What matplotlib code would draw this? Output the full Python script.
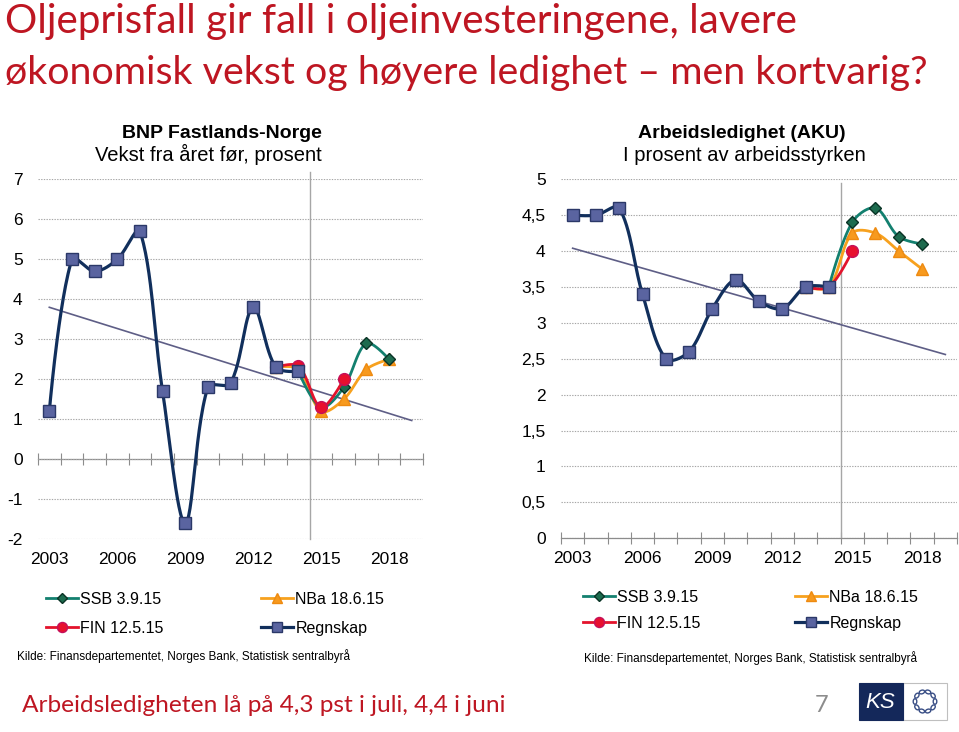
import numpy as np
import matplotlib.pyplot as plt
from matplotlib.patches import Rectangle, Ellipse
from matplotlib.lines import Line2D

plt.rcParams['font.family'] = ['Liberation Sans', 'DejaVu Sans']

# ---- data ----
tick_years = [2003, 2006, 2009, 2012, 2015, 2018]
trend_years = [2003, 2019]

# BNP Fastlands-Norge, vekst fra året før
bnp_regnskap_years = list(range(2003, 2015))
bnp_regnskap = [1.2, 5.0, 4.7, 5.0, 5.7, 1.7, -1.6, 1.8, 1.9, 3.8, 2.3, 2.2]
bnp_ssb_years = [2014, 2015, 2016, 2017, 2018]
bnp_ssb = [2.2, 1.3, 1.8, 2.9, 2.5]
bnp_nba_years = [2013, 2014, 2015, 2016, 2017, 2018]
bnp_nba = [2.3, 2.25, 1.2, 1.5, 2.25, 2.5]
bnp_fin_years = [2013, 2014, 2015, 2016]
bnp_fin = [2.3, 2.33, 1.3, 2.0]
bnp_trend = [3.8, 0.97]

# Arbeidsledighet (AKU)
aku_regnskap_years = list(range(2003, 2015))
aku_regnskap = [4.5, 4.5, 4.6, 3.4, 2.5, 2.6, 3.2, 3.6, 3.3, 3.2, 3.5, 3.5]
aku_ssb_years = [2014, 2015, 2016, 2017, 2018]
aku_ssb = [3.5, 4.4, 4.6, 4.2, 4.1]
aku_nba_years = [2013, 2014, 2015, 2016, 2017, 2018]
aku_nba = [3.5, 3.5, 4.25, 4.25, 4.0, 3.75]
aku_fin_years = [2013, 2014, 2015]
aku_fin = [3.5, 3.5, 4.0]
aku_trend = [4.04, 2.56]

W, H = 959, 732
red_title = '#BE1622'
navy = '#112F5C'
teal = '#13806F'
orange = '#F7A11E'
red = '#E3132C'
trend_col = '#5E5E86'
grid_col = '#A6A6A6'


def px(x, y):
    return x / W, 1 - y / H


def smooth(ax, xs, ys, n=30):
    # Bezier smoothing in screen space, tangents split by chord length (Excel-like)
    bb = ax.get_position()
    kx = bb.width * W / (ax.get_xlim()[1] - ax.get_xlim()[0])
    ky = bb.height * H / (ax.get_ylim()[1] - ax.get_ylim()[0])
    p = np.column_stack([np.asarray(xs, float) * kx, np.asarray(ys, float) * ky])
    k = len(p)
    c_out = p.copy()
    c_in = p.copy()
    for i in range(1, k - 1):
        d = p[i + 1] - p[i - 1]
        a = np.hypot(*(p[i] - p[i - 1]))
        b = np.hypot(*(p[i + 1] - p[i]))
        c_in[i] = p[i] - d * a / (a + b) / 3
        c_out[i] = p[i] + d * b / (a + b) / 3
    t = np.linspace(0, 1, n)[:, None]
    pts = []
    for i in range(k - 1):
        seg = ((1 - t)**3 * p[i] + 3 * (1 - t)**2 * t * c_out[i]
               + 3 * (1 - t) * t**2 * c_in[i + 1] + t**3 * p[i + 1])
        pts.append(seg)
    pts = np.vstack(pts)
    return pts[:, 0] / kx, pts[:, 1] / ky


styles = {
    'SSB 3.9.15': dict(color=teal, lw=2.0, marker='D', mfc='#1D6B4E', mec='#0A3326', ms=6.5, z=4),
    'NBa 18.6.15': dict(color=orange, lw=2.0, marker='^', mfc='#F79A1E', mec='#EE8A10', ms=8.5, z=3),
    'FIN 12.5.15': dict(color=red, lw=2.0, marker='o', mfc='#E8102E', mec='#C4105A', ms=8.5, z=5),
    'Regnskap': dict(color=navy, lw=2.3, marker='s', mfc='#5A64A0', mec='#2B3868', ms=9, z=6),
}


def draw(ax, name, xs, ys):
    st = styles[name]
    sx, sy = smooth(ax, xs, ys)
    ax.plot(sx, sy, color=st['color'], lw=st['lw'], zorder=st['z'], solid_capstyle='round')
    ax.plot(xs, ys, ls='none', marker=st['marker'], mfc=st['mfc'], mec=st['mec'],
            ms=st['ms'], mew=1.0, zorder=st['z'] + 0.5)


def handle(name):
    st = styles[name]
    return Line2D([], [], color=st['color'], lw=st['lw'], marker=st['marker'], mfc=st['mfc'],
                  mec=st['mec'], ms=st['ms'] * 0.85, mew=1.0)


def setup(ax, ylim, yticks, ylabels):
    ax.set_xlim(2002.5, 2019.5)
    ax.set_ylim(*ylim)
    ax.set_yticks(yticks, ylabels)
    ax.set_xticks(tick_years, [str(y) for y in tick_years])
    ax.tick_params(axis='both', length=0, labelsize=12.5)
    ax.tick_params(axis='y', pad=11)
    ax.tick_params(axis='x', pad=9)
    for s in ax.spines.values():
        s.set_visible(False)
    ax.grid(axis='y', color=grid_col, lw=0.8, ls=(0, (1.2, 1.2)))
    ax.set_axisbelow(True)
    sec = ax.secondary_xaxis(0, transform=ax.transData)
    sec.set_xticks(np.arange(2002.5, 2020, 1.0))
    sec.tick_params(direction='inout', length=8, width=0.8, color='#8C8C8C', labelbottom=False)
    sec.spines['bottom'].set_color('#8C8C8C')
    sec.spines['bottom'].set_linewidth(0.9)


fig = plt.figure(figsize=(W / 100, H / 100), dpi=100)

# ---- left panel: BNP ----
axL = fig.add_axes([38 / W, 1 - 539.3 / H, 385 / W, 360 / H])
setup(axL, (-2, 7), range(-2, 8), [str(v) for v in range(-2, 8)])
axL.axvline(2014.5, ymin=0, ymax=1.02, color=grid_col, lw=1.0, clip_on=False, zorder=1)
axL.plot(trend_years, bnp_trend, color=trend_col, lw=1.2, zorder=2)
draw(axL, 'NBa 18.6.15', bnp_nba_years, bnp_nba)
draw(axL, 'SSB 3.9.15', bnp_ssb_years, bnp_ssb)
draw(axL, 'FIN 12.5.15', bnp_fin_years, bnp_fin)
draw(axL, 'Regnskap', bnp_regnskap_years, bnp_regnskap)

# ---- right panel: AKU ----
axR = fig.add_axes([561 / W, 1 - 538.3 / H, 396 / W, 359 / H])
aku_ticks = np.arange(0, 5.01, 0.5)
aku_labels = [('%g' % v).replace('.', ',') for v in aku_ticks]
setup(axR, (0, 5), aku_ticks, aku_labels)
axR.axvline(2014.5, ymin=0, ymax=0.99, color=grid_col, lw=1.0, zorder=1)
axR.plot(trend_years, aku_trend, color=trend_col, lw=1.2, zorder=2)
draw(axR, 'NBa 18.6.15', aku_nba_years, aku_nba)
draw(axR, 'SSB 3.9.15', aku_ssb_years, aku_ssb)
draw(axR, 'FIN 12.5.15', aku_fin_years, aku_fin)
draw(axR, 'Regnskap', aku_regnskap_years, aku_regnskap)

# ---- legends ----
order = ['SSB 3.9.15', 'FIN 12.5.15', 'NBa 18.6.15', 'Regnskap']
for x0, y0, spacing, cs in ((46, 592, 0.85, 6.1), (583, 590, 0.68, 5.9)):
    fig.legend([handle(n) for n in order], order, ncol=2, loc='upper left',
               bbox_to_anchor=px(x0, y0), frameon=False, fontsize=11.5,
               borderpad=0, borderaxespad=0, handlelength=2.0, handletextpad=0.15,
               labelspacing=spacing, columnspacing=cs)

# ---- titles ----
renderer = fig.canvas.get_renderer()
title_font = ['Lato', 'DejaVu Sans']


def fitted_size(prefix, width):
    probe = fig.text(0, 0, prefix, family=title_font, fontsize=30)
    w = probe.get_window_extent(renderer).width
    probe.remove()
    return 30 * width / w


size1 = fitted_size('Oljeprisfall gir fall i oljeinve', 478)
size2 = fitted_size('økonomisk vekst og høyere ledighet – men ko', 794)
fig.text(*px(5, 33), 'Oljeprisfall gir fall i oljeinvesteringene, lavere',
         family=title_font, fontsize=size1, color=red_title, va='baseline')
fig.text(*px(5, 84), 'økonomisk vekst og høyere ledighet – men kortvarig?',
         family=title_font, fontsize=size2, color=red_title, va='baseline')

fig.text(*px(222, 138), 'BNP Fastlands-Norge', ha='center', va='baseline',
         fontsize=14, fontweight='bold')
fig.text(*px(208, 161), 'Vekst fra året før, prosent', ha='center', va='baseline', fontsize=14.5)
fig.text(*px(742, 138), 'Arbeidsledighet (AKU)', ha='center', va='baseline',
         fontsize=14, fontweight='bold')
fig.text(*px(744, 161), 'I prosent av arbeidsstyrken', ha='center', va='baseline', fontsize=14.5)

src = 'Kilde: Finansdepartementet, Norges Bank, Statistisk sentralbyrå'
fig.text(*px(17, 656), src, va='center', fontsize=8.5)
fig.text(*px(584, 658), src, va='center', fontsize=8.5)

fig.text(*px(22, 706), 'Arbeidsledigheten lå på 4,3 pst i juli, 4,4 i juni',
         family=title_font, fontsize=17.6, color=red_title, va='center')
fig.text(*px(822, 706), '7', family=title_font, fontsize=17,
         color='#8C8C8C', va='center', ha='center')

# ---- KS logo ----
lg = fig.add_axes([0, 0, 1, 1], zorder=10)
lg.set_xlim(0, W)
lg.set_ylim(H, 0)
lg.axis('off')
lg.add_patch(Rectangle((902.5, 683), 44.5, 37, fc='white', ec='#BFBFBF', lw=0.8))
lg.add_patch(Rectangle((859, 683), 44, 37, fc='#14285A', ec='#14285A', lw=0.8))
lg.text(880.5, 702, 'KS', color='white', fontsize=16, style='italic',
        ha='center', va='center', family=['Liberation Sans'])
for a in np.linspace(0, 2 * np.pi, 10, endpoint=False):
    cx, cy = 925 + 10 * np.cos(a), 701.5 + 10 * np.sin(a)
    lg.add_patch(Ellipse((cx, cy), 5.5, 3.6, angle=np.degrees(a) + 90,
                         fc='white', ec='#3A4F86', lw=1.0))

fig.savefig('out.png', dpi=100)
